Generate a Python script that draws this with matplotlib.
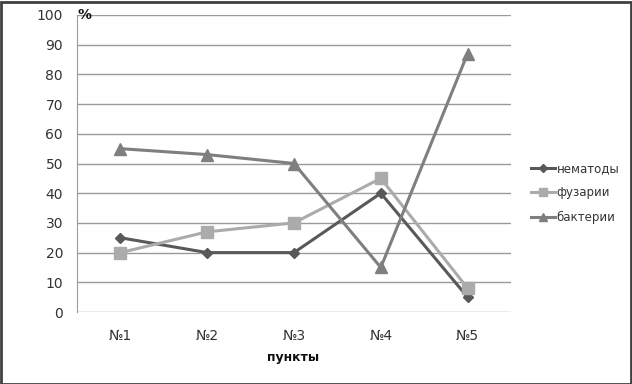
import matplotlib
matplotlib.use("Agg")
import matplotlib.pyplot as plt
from matplotlib.patches import Rectangle

categories = ["№1", "№2", "№3", "№4", "№5"]
nematody = [25, 20, 20, 40, 5]
fuzarii = [20, 27, 30, 45, 8]
bakterii = [55, 53, 50, 15, 87]
series_names = ["нематоды", "фузарии", "бактерии"]

plt.rcParams['font.family'] = ['DejaVu Sans']
W, H = 632, 384
fig = plt.figure(figsize=(W / 100, H / 100), dpi=100)
ax = fig.add_axes([77 / W, 1 - 312 / H, 434 / W, 297 / H])

x = list(range(len(categories)))
c_nem = "#595959"
c_fuz = "#ababab"
c_bak = "#7f7f7f"
ax.plot(x, nematody, color=c_nem, lw=2.2, marker="D", ms=5.5, label=series_names[0], zorder=3)
ax.plot(x, fuzarii, color=c_fuz, lw=2.2, marker="s", ms=8, label=series_names[1], zorder=3)
ax.plot(x, bakterii, color=c_bak, lw=2.2, marker="^", ms=8, label=series_names[2], zorder=3)

ax.set_xlim(-0.5, len(categories) - 0.5)
ax.set_ylim(0, 100)
ax.set_yticks(range(0, 101, 10))
ax.set_xticks(x)
ax.set_xticklabels(categories)
ax.yaxis.grid(True, color="#9a9a9a", lw=1)
ax.set_axisbelow(True)
for s in ["top", "right", "bottom"]:
    ax.spines[s].set_visible(False)
ax.spines["left"].set_color("#9a9a9a")
ax.tick_params(axis="both", length=0, labelsize=10, colors="#333333")
ax.tick_params(axis="y", pad=10)
ax.tick_params(axis="x", pad=12)

fig.text(77 / W, 1 - 15 / H, "%", fontsize=10, fontweight="bold", ha="left", va="center", color="#111111")
fig.text(293 / W, 1 - 358 / H, "пункты", fontsize=9, fontweight="bold", ha="center", va="center", color="#111111")

leg = ax.legend(loc="center left", bbox_to_anchor=(531 / W, 1 - 193 / H), bbox_transform=fig.transFigure,
                frameon=False, fontsize=8.5, handlelength=2.0, handletextpad=0.15, labelspacing=1.0,
                markerscale=0.75, borderpad=0, borderaxespad=0)
for t in leg.get_texts():
    t.set_color("#333333")

fig.patches.append(Rectangle((0.5 / W, 0.5 / H), 1 - 2 / W, 1 - 2 / H, transform=fig.transFigure,
                             fill=False, edgecolor="#404040", lw=2, zorder=10))
fig.savefig("out.png", dpi=100)
